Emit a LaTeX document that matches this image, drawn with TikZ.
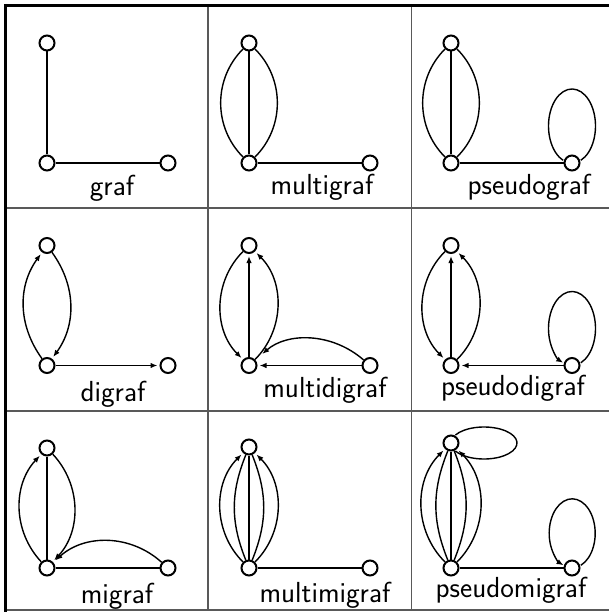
\documentclass[tikz,border=0pt]{standalone}
\usetikzlibrary{arrows.meta}
\begin{document}
\begin{tikzpicture}[x=1pt,y=1pt,
  vtx/.style={circle,draw,line width=2pt,minimum size=15pt,inner sep=0pt,fill=white},
  edge/.style={line width=1.4pt},
  tipstyle/.style={-{Latex[length=7pt,width=5.5pt]}},
  arr/.style={tipstyle,shorten >=2pt},
  lbl/.style={font=\fontsize{29}{31}\selectfont\sffamily,anchor=base,inner sep=0pt},
  gridline/.style={draw=black!65,line width=1.3pt},
  frameline/.style={draw=black,line width=3pt}]
\useasboundingbox (0,0) rectangle (609,-612);
% grid
\draw[gridline] (208,-6) -- (208,-610);
\draw[gridline] (411.5,-6) -- (411.5,-610);
\draw[gridline] (6,-208) -- (609,-208);
\draw[gridline] (6,-411) -- (609,-411);
\draw[gridline] (6,-610) -- (609,-610);
\draw[frameline] (4,-5.5) -- (609,-5.5);
\draw[frameline] (5.5,-4) -- (5.5,-612);

% cell 1: graf
\begin{scope}[shift={(0,0)}]
\node[vtx] (t1) at (47,-43) {};
\node[vtx] (b1) at (47,-163) {};
\node[vtx] (r1) at (168,-163) {};
\draw[edge] (t1) -- (b1);
\draw[edge] (b1) -- (r1);
\node[lbl] (l1) at (112,-196) {graf};
\end{scope}

% cell 2: multigraf
\begin{scope}[shift={(202,0)}]
\node[vtx] (t2) at (47,-43) {};
\node[vtx] (b2) at (47,-163) {};
\node[vtx] (r2) at (168,-163) {};
\draw[edge] (t2) -- (b2);
\draw[edge] (t2) to[bend right=45] (b2);
\draw[edge] (t2) to[bend left=45] (b2);
\draw[edge] (b2) -- (r2);
\node[lbl] (l2) at (120,-195) {multigraf};
\end{scope}

% cell 3: pseudograf
\begin{scope}[shift={(404,0)}]
\node[vtx] (t3) at (47,-43) {};
\node[vtx] (b3) at (47,-163) {};
\node[vtx] (r3) at (168,-163) {};
\draw[edge] (t3) -- (b3);
\draw[edge] (t3) to[bend right=45] (b3);
\draw[edge] (t3) to[bend left=45] (b3);
\draw[edge] (b3) -- (r3);
\draw[edge] ([shift={(8.8,2.7)}]r3.center) arc[start angle=-68, end angle=248, x radius=23.5, y radius=37];
\node[lbl] (l3) at (125,-195) {pseudograf};
\end{scope}

% cell 4: digraf
\begin{scope}[shift={(0,-202.5)}]
\node[vtx] (t4) at (47,-43) {};
\node[vtx] (b4) at (47,-163) {};
\node[vtx] (r4) at (168,-163) {};
\draw[edge,arr] (b4) to[bend left=36] (t4);
\draw[edge,arr] (t4) to[bend left=36] (b4);
\draw[edge,arr] (b4) -- (r4);
\node[lbl] (l4) at (113,-199) {digraf};
\end{scope}

% cell 5: multidigraf
\begin{scope}[shift={(202,-202.5)}]
\node[vtx] (t5) at (47,-43) {};
\node[vtx] (b5) at (47,-163) {};
\node[vtx] (r5) at (168,-163) {};
\draw[edge,arr] (t5) to[bend right=45] (b5);
\draw[edge,arr] (b5) -- (t5);
\draw[edge,arr] (b5) to[bend right=45] (t5);
\draw[edge,arr] (r5) -- (b5);
\draw[edge,arr,shorten >=9pt] (r5) to[bend right=41] (b5);
\node[lbl] (l5) at (123,-194.5) {multidigraf};
\end{scope}

% cell 6: pseudodigraf
\begin{scope}[shift={(404,-202.5)}]
\node[vtx] (t6) at (47,-43) {};
\node[vtx] (b6) at (47,-163) {};
\node[vtx] (r6) at (168,-163) {};
\draw[edge,arr] (t6) to[bend right=45] (b6);
\draw[edge,arr] (b6) -- (t6);
\draw[edge,arr] (b6) to[bend right=45] (t6);
\draw[edge,arr] (r6) -- (b6);
\draw[edge,tipstyle] ([shift={(8.8,2.7)}]r6.center) arc[start angle=-68, end angle=248, x radius=23.5, y radius=37];
\node[lbl] (l6) at (109,-192.5) {pseudodigraf};
\end{scope}

% cell 7: migraf
\begin{scope}[shift={(0,-405)}]
\node[vtx] (t7) at (47,-43) {};
\node[vtx] (b7) at (47,-163) {};
\node[vtx] (r7) at (168,-163) {};
\draw[edge,arr] (b7) to[bend left=43] (t7);
\draw[edge] (t7) -- (b7);
\draw[edge,arr] (t7) to[bend left=43] (b7);
\draw[edge] (b7) -- (r7);
\draw[edge,arr,shorten >=3pt] (r7) to[bend right=42] (b7);
\node[lbl] (l7) at (117,-198) {migraf};
\end{scope}

% cell 8: multimigraf
\begin{scope}[shift={(202,-405)}]
\node[vtx] (t8) at (47,-42) {};
\node[vtx] (b8) at (47,-163) {};
\node[vtx] (r8) at (168,-163) {};
\draw[edge,arr] (b8) to[bend left=45] (t8);
\draw[edge] (b8) to[bend left=22] (t8);
\draw[edge] (b8) -- (t8);
\draw[edge] (b8) to[bend right=22] (t8);
\draw[edge,arr] (b8) to[bend right=45] (t8);
\draw[edge] (b8) -- (r8);
\node[lbl] (l8) at (123,-197) {multimigraf};
\end{scope}

% cell 9: pseudomigraf
\begin{scope}[shift={(404,-405)}]
\node[vtx] (t9) at (47,-38) {};
\node[vtx] (b9) at (47,-163) {};
\node[vtx] (r9) at (168,-163) {};
\draw[edge] ([shift={(4.4,8)}]t9.center) arc[start angle=150, end angle=-150, x radius=33, y radius=16];
\draw[edge,arr] (b9) to[bend left=45] (t9);
\draw[edge] (b9) to[bend left=22] (t9);
\draw[edge] (b9) -- (t9);
\draw[edge] (b9) to[bend right=22] (t9);
\draw[edge,arr] (b9) to[bend right=45] (t9);
\draw[edge] (b9) -- (r9);
\draw[edge,tipstyle] ([shift={(8.8,2.7)}]r9.center) arc[start angle=-68, end angle=248, x radius=23, y radius=34.5];
\node[lbl] (l9) at (107,-192) {pseudomigraf};
\end{scope}
\end{tikzpicture}
\end{document}
